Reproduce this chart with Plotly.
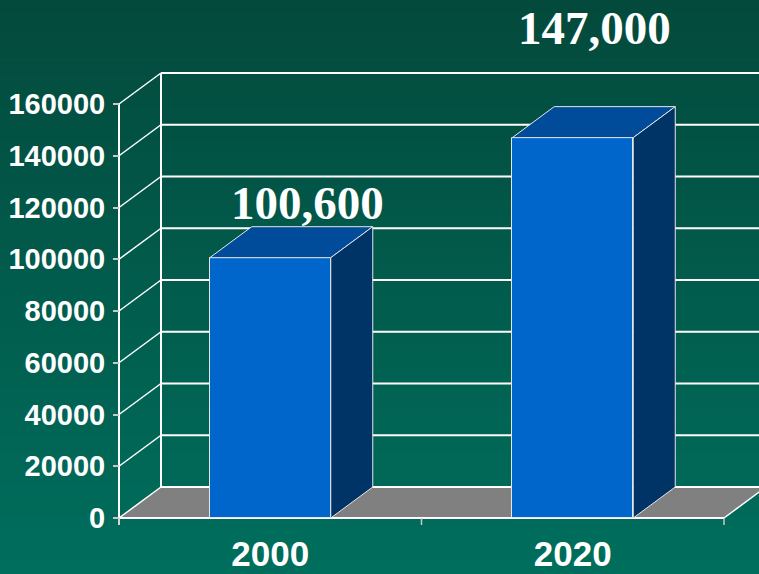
import plotly.graph_objects as go

# ---------------- data ----------------
categories = ["2000", "2020"]
values = [100600, 147000]
value_labels = ["100,600", "147,000"]
y_ticks = [0, 20000, 40000, 60000, 80000, 100000, 120000, 140000, 160000]
y_tick_labels = [str(v) for v in y_ticks]

# ---------------- geometry / style ----------------
W, H = 759, 574
ML, MR, MT, MB = 100, 0, 0, 44
PX_X = 302.5                 # px per category unit
X0_PX = 119                  # pixel of x = -0.5 (front axis)
Y0_PX = 518                  # pixel of y = 0
U_PER_PX = 160000 / (518 - 104)
DX = 42 / PX_X               # depth offset in x units
DY = 31 * U_PER_PX           # depth offset in y units
BAR_W = 0.4

plot_w = W - ML - MR
plot_h = H - MT - MB
x_lo = -0.5 - (X0_PX - ML) / PX_X
x_hi = -0.5 + (W - MR - X0_PX) / PX_X
y_lo = -((H - MB) - Y0_PX) * U_PER_PX
y_hi = (Y0_PX - MT) * U_PER_PX
x_left, x_right = -0.5, len(categories) - 0.5
y_top = y_ticks[-1]

FRONT = "#0066CC"
TOP = "#004C9A"
SIDE = "#003366"
EDGE = "#E6E6E6"
GRID = "white"
FLOOR = "#808080"

fig = go.Figure()

# background gradient strips
def lerp(c1, c2, t):
    a = [int(c1[i:i + 2], 16) for i in (1, 3, 5)]
    b = [int(c2[i:i + 2], 16) for i in (1, 3, 5)]
    return "#%02x%02x%02x" % tuple(round(a[k] + (b[k] - a[k]) * t) for k in range(3))

shapes = []
N = 90
pyb = -MB / plot_h
pyt = 1 + MT / plot_h
pxl = -ML / plot_w
pxr = 1 + MR / plot_w
for i in range(N):
    t = i / (N - 1)
    y1 = pyt - (pyt - pyb) * i / N
    y0 = pyt - (pyt - pyb) * (i + 1) / N
    shapes.append(dict(type="rect", xref="paper", yref="paper", x0=pxl, x1=pxr,
                       y0=y0 - 0.003, y1=y1, fillcolor=lerp("#034A3C", "#006E5D", t),
                       line=dict(width=0), layer="below"))

# floor
shapes.append(dict(type="path", xref="x", yref="y", layer="below",
                   path=f"M {x_left},0 L {x_right},0 L {x_right+DX},{DY} L {x_left+DX},{DY} Z",
                   fillcolor=FLOOR, line=dict(width=0)))

# gridlines: side wall diagonals and back wall horizontals
for v in y_ticks:
    shapes.append(dict(type="line", xref="x", yref="y", layer="below",
                       x0=x_left, y0=v, x1=x_left + DX, y1=v + DY,
                       line=dict(color=GRID, width=1.5)))
    shapes.append(dict(type="line", xref="x", yref="y", layer="below",
                       x0=x_left + DX, y0=v + DY, x1=x_right + DX + 1, y1=v + DY,
                       line=dict(color=GRID, width=2)))
# back wall vertical edge
shapes.append(dict(type="line", xref="x", yref="y", layer="below",
                   x0=x_left + DX, y0=DY, x1=x_left + DX, y1=y_top + DY,
                   line=dict(color=GRID, width=2)))
# front vertical axis line
shapes.append(dict(type="line", xref="x", yref="y", layer="below",
                   x0=x_left, y0=-7 * U_PER_PX, x1=x_left, y1=y_top,
                   line=dict(color=GRID, width=2)))
# front floor edge
shapes.append(dict(type="line", xref="x", yref="y", layer="below",
                   x0=x_left, y0=0, x1=x_right, y1=0,
                   line=dict(color=GRID, width=2)))
# right floor diagonal
shapes.append(dict(type="line", xref="x", yref="y", layer="below",
                   x0=x_right, y0=0, x1=x_right + DX, y1=DY,
                   line=dict(color=GRID, width=1.5)))
# x-axis tick marks between categories
for k in range(len(categories) + 1):
    xv = x_left + k
    shapes.append(dict(type="line", xref="x", yref="y", layer="below",
                       x0=xv, y0=0, x1=xv, y1=-7 * U_PER_PX,
                       line=dict(color="#C8C8C8", width=1.5)))

# bars: front faces
xs = list(range(len(categories)))
fig.add_trace(go.Bar(x=xs, y=values, width=BAR_W,
                     marker=dict(color=FRONT, line=dict(color=EDGE, width=1)),
                     hoverinfo="skip", showlegend=False))

# bars: top and side faces
for xi, v in zip(xs, values):
    l, r = xi - BAR_W / 2, xi + BAR_W / 2
    fig.add_trace(go.Scatter(x=[l, r, r + DX, l + DX, l], y=[v, v, v + DY, v + DY, v],
                             fill="toself", fillcolor=TOP, mode="lines",
                             line=dict(color=EDGE, width=1), hoverinfo="skip",
                             showlegend=False))
    fig.add_trace(go.Scatter(x=[r, r + DX, r + DX, r, r], y=[0, DY, v + DY, v, 0],
                             fill="toself", fillcolor=SIDE, mode="lines",
                             line=dict(color=EDGE, width=1), hoverinfo="skip",
                             showlegend=False))

# value labels
label_shift = [(37, 55), (22, 110)]
annotations = []
for xi, v, txt, (sx, sy) in zip(xs, values, value_labels, label_shift):
    annotations.append(dict(x=xi, y=v, xref="x", yref="y", text=f"<b>{txt}</b>",
                            showarrow=False, xshift=sx, yshift=sy,
                            font=dict(family="Liberation Serif, Times New Roman, serif",
                                      size=47, color="white")))

fig.update_layout(
    width=W, height=H,
    margin=dict(l=ML, r=MR, t=MT, b=MB, autoexpand=False),
    paper_bgcolor="#02594A", plot_bgcolor="rgba(0,0,0,0)",
    shapes=shapes, annotations=annotations,
    bargap=0,
    xaxis=dict(range=[x_lo, x_hi], tickvals=xs, ticktext=[f"<b>{c}</b>" for c in categories],
               showgrid=False, zeroline=False, showline=False, ticks="",
               ticklabelstandoff=0, automargin=False,
               tickfont=dict(family="Liberation Sans, Arial, sans-serif", size=35, color="white")),
    yaxis=dict(range=[y_lo, y_hi], tickvals=y_ticks,
               ticktext=[f"<b>{t}</b>" for t in y_tick_labels],
               anchor="free", position=(X0_PX - ML) / plot_w, automargin=False,
               showgrid=False, zeroline=False, showline=False,
               ticks="outside", ticklen=6, tickwidth=1.5, tickcolor="#C8C8C8",
               ticklabelstandoff=2,
               tickfont=dict(family="Liberation Sans, Arial, sans-serif", size=29, color="white")),
)

fig.write_html("out.html")
